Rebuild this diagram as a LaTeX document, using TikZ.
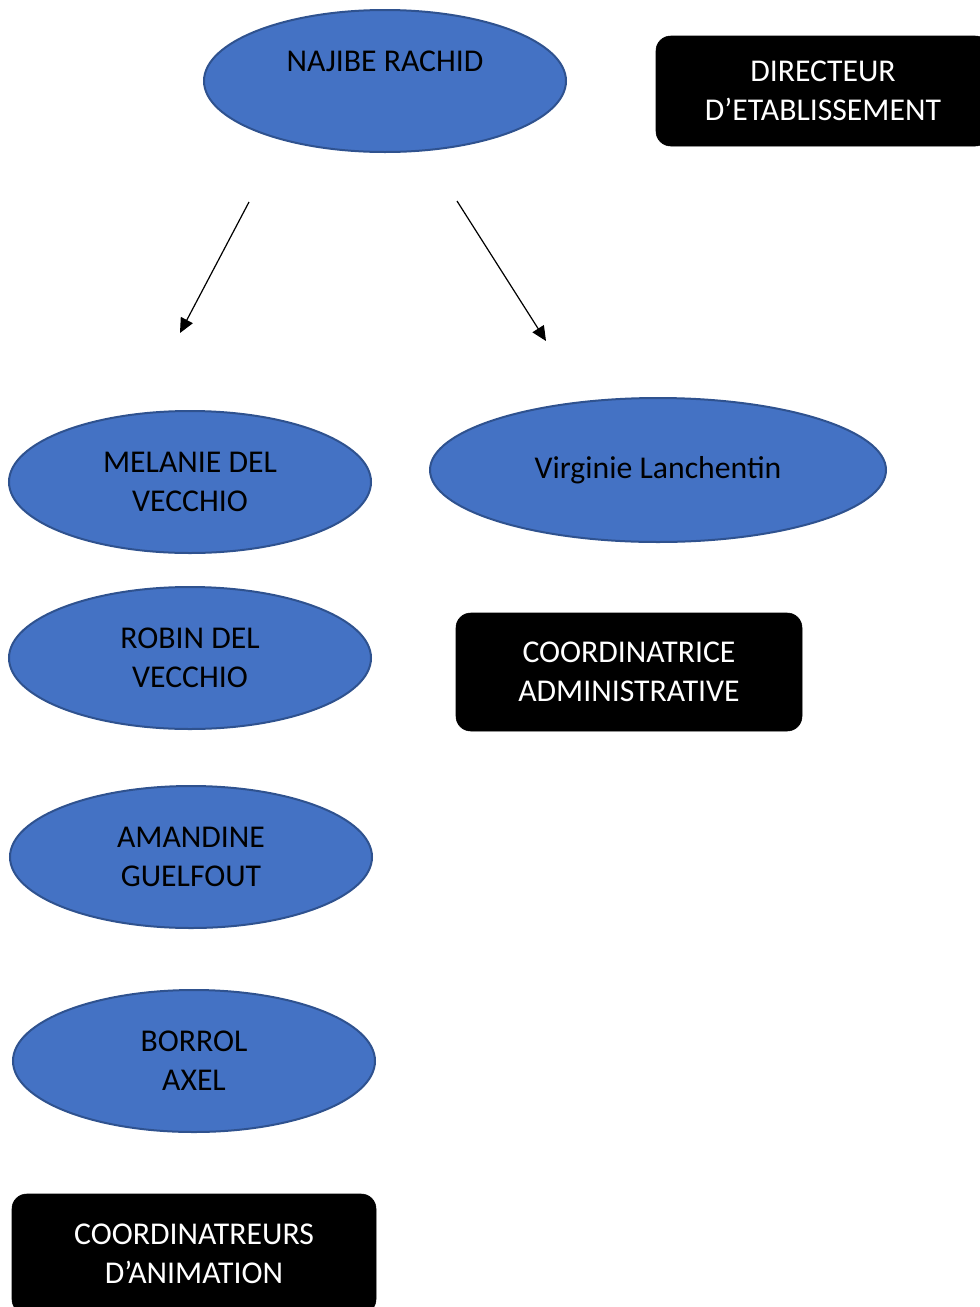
\documentclass[tikz,border=0pt]{standalone}
\usepackage{fontspec}
\setmainfont{Carlito}
\usetikzlibrary{shapes.geometric,arrows.meta}
\definecolor{ellfill}{HTML}{4472C4}
\definecolor{elldraw}{HTML}{2F528F}
\tikzset{
  person/.style={ellipse, fill=ellfill, draw=elldraw, line width=1.5pt, inner sep=0pt,
    minimum width=271.5pt, minimum height=106.5pt,
    align=center, text=black, font=\fontsize{23.8}{29.25}\selectfont},
  rolebox/.style={rectangle, rounded corners=11pt, fill=black, draw=black, inner sep=0pt,
    align=center, text=white, font=\fontsize{23.8}{29.25}\selectfont},
  link/.style={line width=0.9pt, -{Triangle[length=11pt,width=10pt]}}
}
\begin{document}
\begin{tikzpicture}[x=0.75pt,y=-0.75pt]
\useasboundingbox (0,0) rectangle (979,1307);
\fill[white] (0,0) rectangle (979,1307);
\node[person] (najibe) at (385,81) {NAJIBE RACHID\\\mbox{}};
\node[rolebox, minimum width=250.5pt, minimum height=82.5pt] (dir) at (823,91) {DIRECTEUR\\D’ETABLISSEMENT};
\coordinate (a1s) at (249,202);
\coordinate (a1e) at (180,333);
\coordinate (a2s) at (457,201);
\coordinate (a2e) at (546,341);
\draw[link] (a1s) -- (a1e);
\draw[link] (a2s) -- (a2e);
\node[person] (melanie) at (190,482) {MELANIE DEL\\VECCHIO};
\node[person, minimum width=342pt, minimum height=108pt] (virginie) at (658,470) {Virginie Lanchentin};
\node[rolebox, minimum width=259.5pt, minimum height=88.5pt] (coordadm) at (629,672) {COORDINATRICE\\ADMINISTRATIVE};
\node[person] (robin) at (190,658) {ROBIN DEL\\VECCHIO};
\node[person] (amandine) at (191,857) {AMANDINE\\GUELFOUT};
\node[person] (borrol) at (194,1061) {BORROL\\AXEL};
\node[rolebox, minimum width=273pt, minimum height=90pt] (coordanim) at (194,1254) {COORDINATREURS\\D’ANIMATION};
\end{tikzpicture}
\end{document}
